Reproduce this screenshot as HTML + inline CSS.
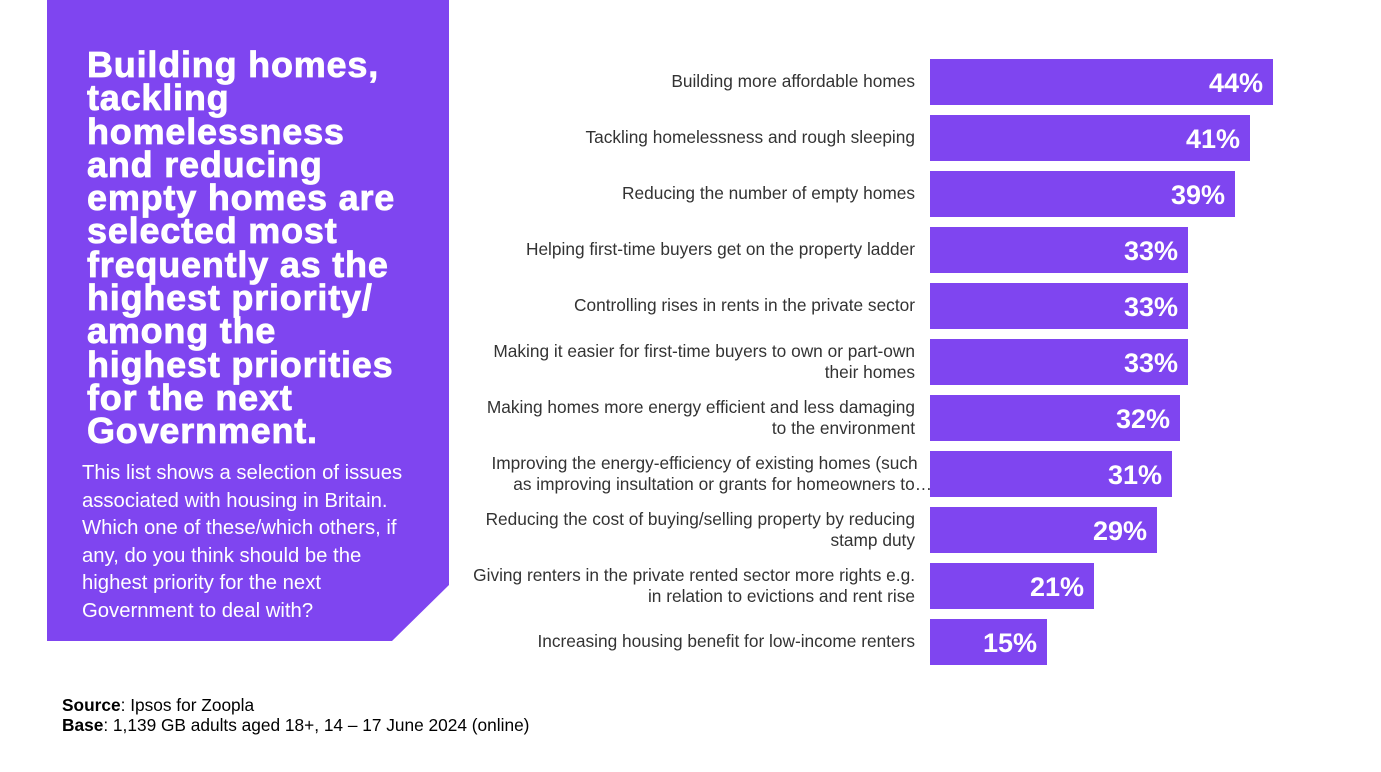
<!DOCTYPE html>
<html><head><meta charset="utf-8"><style>
body{margin:0;width:1381px;height:772px;background:#fff;position:relative;overflow:hidden;font-family:"Liberation Sans",Arial,sans-serif}
.panel{position:absolute;left:47px;top:0;width:402px;height:641px;background:#7f45f0;clip-path:polygon(0 0,100% 0,100% 585px,345px 100%,0 100%)}
.title{position:absolute;left:87px;top:48px;color:#fff;font-family:"Liberation Sans",Arial,sans-serif;font-weight:bold;font-size:36px;line-height:33.3px;letter-spacing:0.8px;white-space:nowrap;-webkit-text-stroke:0.8px #fff}
.body{position:absolute;left:82px;top:460px;color:#fff;font-size:20.3px;line-height:27.5px;white-space:nowrap}
.lab{position:absolute;right:466px;color:#333;font-size:17.3px;line-height:21px;text-align:right;white-space:nowrap}
.bar{position:absolute;left:930px;height:46px;background:#7f45f0;color:#fff;font-weight:bold;font-size:27px;line-height:48px;text-align:right;box-sizing:border-box;padding-right:10px}
.foot{position:absolute;left:62px;font-size:17.3px;color:#000}
</style></head><body>
<div class="panel"></div>
<div class="title">Building homes,<br>tackling<br>homelessness<br>and reducing<br>empty homes are<br>selected most<br>frequently as the<br>highest priority/<br>among the<br>highest priorities<br>for the next<br>Government.</div>
<div class="body">This list shows a selection of issues<br>associated with housing in Britain.<br>Which one of these/which others, if<br>any, do you think should be the<br>highest priority for the next<br>Government to deal with?</div>

<div class="lab" style="top:71px">Building more affordable homes</div>
<div class="bar" style="top:59px;width:343px">44%</div>
<div class="lab" style="top:127px">Tackling homelessness and rough sleeping</div>
<div class="bar" style="top:115px;width:320px">41%</div>
<div class="lab" style="top:183px">Reducing the number of empty homes</div>
<div class="bar" style="top:171px;width:305px">39%</div>
<div class="lab" style="top:239px">Helping first-time buyers get on the property ladder</div>
<div class="bar" style="top:227px;width:258px">33%</div>
<div class="lab" style="top:295px">Controlling rises in rents in the private sector</div>
<div class="bar" style="top:283px;width:258px">33%</div>
<div class="lab" style="top:341px">Making it easier for first-time buyers to own or part-own<br>their homes</div>
<div class="bar" style="top:339px;width:258px">33%</div>
<div class="lab" style="top:397px">Making homes more energy efficient and less damaging<br>to the environment</div>
<div class="bar" style="top:395px;width:250px">32%</div>
<div class="lab" style="top:453px;right:449px">Improving the energy-efficiency of existing homes (such&nbsp;&nbsp;&nbsp;<br>as improving insultation or grants for homeowners to…</div>
<div class="bar" style="top:451px;width:242px">31%</div>
<div class="lab" style="top:509px">Reducing the cost of buying/selling property by reducing<br>stamp duty</div>
<div class="bar" style="top:507px;width:227px">29%</div>
<div class="lab" style="top:565px">Giving renters in the private rented sector more rights e.g.<br>in relation to evictions and rent rise</div>
<div class="bar" style="top:563px;width:164px">21%</div>
<div class="lab" style="top:631px">Increasing housing benefit for low-income renters</div>
<div class="bar" style="top:619px;width:117px">15%</div>

<div class="foot" style="top:695px"><b>Source</b>: Ipsos for Zoopla</div>
<div class="foot" style="top:715px"><b>Base</b>: 1,139 GB adults aged 18+, 14 – 17 June 2024 (online)</div>
</body></html>
